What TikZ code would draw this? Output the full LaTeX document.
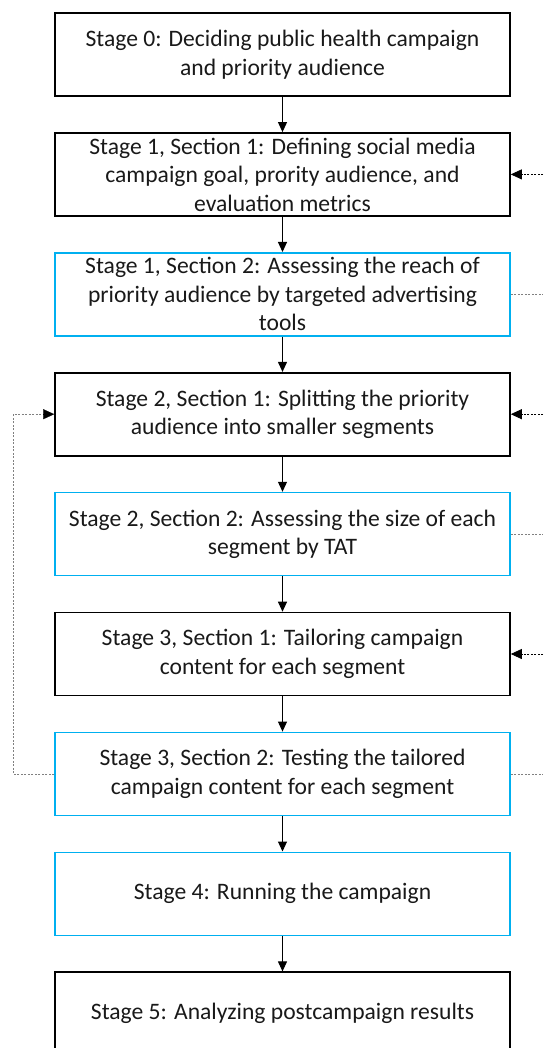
\documentclass[tikz,border=0pt]{standalone}
\usepackage{fontspec}
\setmainfont{Carlito}
\usetikzlibrary{positioning,arrows.meta}
\definecolor{boxblue}{RGB}{0,176,240}

\begin{document}
\begin{tikzpicture}[x=1pt, y=1pt, every node/.style={font=\fontsize{23.6}{28.5}\selectfont, text=black!90}, >={Triangle[length=10pt,width=9pt]},
	stagebox/.style={draw=black, line width=1.6pt, minimum width=455pt, minimum height=83pt, align=center, inner sep=0pt},
	testbox/.style={stagebox, draw=boxblue},
	feedback/.style={gray, line width=0.8pt, dash pattern=on 2pt off 1.5pt},
	node distance=35.3pt]
	\useasboundingbox (0,0) rectangle (543,-1048);
	\clip (0,0) rectangle (543,-1048);
	\node[stagebox] (S0) at (282.5,-54.5) {Stage 0: Deciding public health campaign\\and priority audience};
	\node[stagebox, below=of S0] (S1) {Stage 1, Section 1: Defining social media\\campaign goal, prority audience, and\\evaluation metrics};
	\node[testbox, below=of S1] (S2) {Stage 1, Section 2: Assessing the reach of\\priority audience by targeted advertising\\tools};
	\node[stagebox, below=of S2] (S3) {Stage 2, Section 1: Splitting the priority\\audience into smaller segments};
	\node[testbox, below=of S3] (S4) {Stage 2, Section 2: Assessing the size of each\\segment by TAT};
	\node[stagebox, below=of S4] (S5) {Stage 3, Section 1: Tailoring campaign\\content for each segment};
	\node[testbox, below=of S5] (S6) {Stage 3, Section 2: Testing the tailored\\campaign content for each segment};
	\node[testbox, below=of S6] (S7) {Stage 4: Running the campaign};
	\node[stagebox, below=of S7] (S8) {Stage 5: Analyzing postcampaign results};
	% main flow
	\foreach \a/\b in {S0/S1,S1/S2,S2/S3,S3/S4,S4/S5,S5/S6,S6/S7,S7/S8}
		\draw[->, line width=1pt] (\a.south) -- (\b.north);
	% loops out to the right edge
	\foreach \n in {S1,S2,S3,S4,S5,S6}
		\coordinate (R\n) at (543,0 |- \n.east);
	\foreach \n in {S1,S3,S5}
		\draw[feedback, ->, >={Triangle[length=11pt,width=10pt]}, black] (R\n) -- (\n.east);
	\foreach \n in {S2,S4,S6}
		\draw[feedback] (\n.east) -- (R\n);
	% loop back from testing to splitting
	\coordinate (L) at (13,0);
	\draw[feedback] (S6.west) -| (L |- S3.west) -- ([xshift=-11pt]S3.west);
	\draw[->, >={Triangle[length=11pt,width=10pt]}, line width=0.1pt] ([xshift=-11.1pt]S3.west) -- (S3.west);
\end{tikzpicture}
\end{document}
